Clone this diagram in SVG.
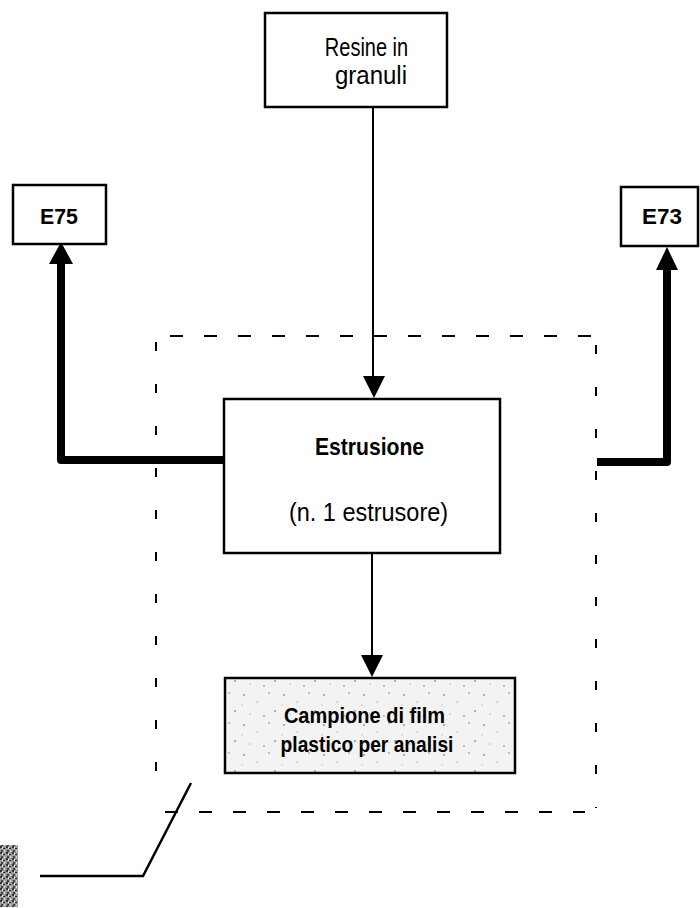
<svg xmlns="http://www.w3.org/2000/svg" width="700" height="908" viewBox="0 0 700 908">
  <style>
    .box { fill: #ffffff; stroke: #000; stroke-width: 2.5; }
    .txt { font-family: "Liberation Sans", Arial, sans-serif; fill: #000; text-anchor: middle; }
    .bold { font-weight: bold; }
    .thin { stroke: #000; stroke-width: 2; fill: none; }
    .thick { stroke: #000; stroke-width: 8; fill: none; stroke-linejoin: round; }
    .head { fill: #000; }
    .dash { stroke: #000; stroke-width: 2; fill: none; stroke-dasharray: 13 21; }
    .dashv { stroke: #000; stroke-width: 2; fill: none; stroke-dasharray: 9 33; }
  </style>
  <defs>
    <pattern id="speckle" width="40" height="30" patternUnits="userSpaceOnUse">
      <rect width="40" height="30" fill="#f3f3f3"/>
      <circle cx="4" cy="5" r="0.8" fill="#555"/>
      <circle cx="17" cy="12" r="0.6" fill="#777"/>
      <circle cx="29" cy="3" r="0.7" fill="#666"/>
      <circle cx="35" cy="21" r="0.8" fill="#555"/>
      <circle cx="10" cy="24" r="0.6" fill="#888"/>
      <circle cx="24" cy="26" r="0.7" fill="#666"/>
      <circle cx="2" cy="15" r="0.5" fill="#888"/>
    </pattern>
    <pattern id="noise" width="6" height="6" patternUnits="userSpaceOnUse">
      <rect width="6" height="6" fill="#9a9a9a"/>
      <rect x="0" y="0" width="2" height="2" fill="#333"/>
      <rect x="3" y="2" width="2" height="1" fill="#222"/>
      <rect x="1" y="4" width="2" height="2" fill="#444"/>
      <rect x="4" y="4" width="1" height="2" fill="#dddddd"/>
      <rect x="2" y="1" width="1" height="2" fill="#eeeeee"/>
    </pattern>
  </defs>

  <!-- connectors -->
  <g id="connectors">
    <!-- resin feed into extrusion -->
    <line class="thin" x1="373" y1="107" x2="373" y2="380"/>
    <path class="head" d="M363,376 L385,376 L374,398 Z"/>
    <!-- extrusion to sample -->
    <line class="thin" x1="372" y1="553" x2="372" y2="660"/>
    <path class="head" d="M361,655 L383,655 L372,677 Z"/>
    <!-- emission E75 -->
    <path class="thick" d="M225,460 L61,460 L61,262"/>
    <path class="head" d="M49,264 L73,264 L61,242 Z"/>
    <!-- emission E73 -->
    <path class="thick" d="M597,462 L667,462 L667,268"/>
    <path class="head" d="M656,270 L678,270 L667,247 Z"/>
    <!-- leader line -->
    <path d="M40,876 L143,876 L191,783" stroke="#000" stroke-width="2.5" fill="none"/>
  </g>

  <!-- dashed plant boundary -->
  <g id="boundary">
    <line class="dash" x1="170" y1="336" x2="596" y2="336"/>
    <line class="dash" x1="165" y1="812" x2="585" y2="812"/>
    <line class="dashv" x1="156" y1="342" x2="156" y2="795"/>
    <line class="dashv" x1="596" y1="345" x2="596" y2="808"/>
  </g>

  <g id="resine">
    <rect class="box" x="265" y="13" width="182" height="94"/>
    <text class="txt" font-size="25" transform="translate(366.5,56) scale(0.80,1)">Resine in</text>
    <text class="txt" font-size="25" transform="translate(371,84) scale(0.96,1)">granuli</text>
  </g>

  <g id="e75">
    <rect class="box" x="13" y="185" width="93" height="59"/>
    <text class="txt bold" font-size="22" transform="translate(59,224) scale(0.97,1)">E75</text>
  </g>

  <g id="e73">
    <rect class="box" x="621" y="187" width="77" height="59"/>
    <text class="txt bold" font-size="22" transform="translate(662,224) scale(1.02,1)">E73</text>
  </g>

  <g id="estrusione">
    <rect class="box" x="224" y="399" width="276" height="154"/>
    <text class="txt bold" font-size="23" transform="translate(369.5,455) scale(0.92,1)">Estrusione</text>
    <text class="txt" font-size="25" transform="translate(368.5,521) scale(0.94,1)">(n. 1 estrusore)</text>
  </g>

  <g id="campione">
    <rect x="225" y="678" width="290" height="95" fill="url(#speckle)" stroke="#000" stroke-width="2.5"/>
    <text class="txt bold" font-size="22" transform="translate(364.5,723) scale(0.91,1)">Campione di film</text>
    <text class="txt bold" font-size="22" transform="translate(367,752) scale(0.873,1)">plastico per analisi</text>
  </g>

  <!-- small textured mark at lower left -->
  <rect x="0" y="845" width="18" height="62" fill="url(#noise)"/>
</svg>
